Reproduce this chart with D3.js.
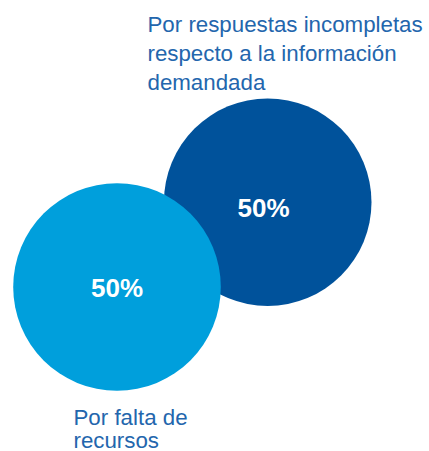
<!DOCTYPE html>
<html>
<head>
<meta charset="utf-8">
<script src="https://cdn.jsdelivr.net/npm/d3@7"></script>
<style>
  html, body { margin: 0; padding: 0; background: #ffffff; }
  svg { display: block; }
</style>
</head>
<body>
<script>
// Motivos de las respuestas, cada uno con su porcentaje
const categories = ["incompletas", "recursos"];
const values = [50, 50];
const labelLines = [
  ["Por respuestas incompletas", "respecto a la información", "demandada"],
  ["Por falta de", "recursos"]
];
const valueLabels = ["50%", "50%"];

const width = 429, height = 451;
const colors = d3.scaleOrdinal().domain(categories).range(["#00529b", "#009fdc"]);

// Bubble area proportional to share
const r = d3.scaleSqrt().domain([0, 50]).range([0, 103.8]);

// Layout of each bubble and its caption
const layout = {
  incompletas: { cx: 267.7, cy: 202.2, tx: 263.5, ty: 207.4, lx: 147.5, ly: 31.7, lh: 29.3 },
  recursos:    { cx: 117.0, cy: 287.0, tx: 117.0, ty: 287.6, lx: 73.5,  ly: 424.5, lh: 23.6 }
};

const data = categories.map((c, i) => ({
  key: c, value: values[i], lines: labelLines[i], text: valueLabels[i], ...layout[c]
}));

const svg = d3.select("body").append("svg")
  .attr("width", width).attr("height", height);

// Circles: the first one sits behind the second
svg.selectAll("circle.bubble").data(data).join("circle")
  .attr("class", "bubble")
  .attr("cx", d => d.cx)
  .attr("cy", d => d.cy)
  .attr("r", d => r(d.value))
  .attr("fill", d => colors(d.key));

// Percentages
svg.selectAll("text.pct").data(data).join("text")
  .attr("class", "pct")
  .attr("x", d => d.tx)
  .attr("y", d => d.ty)
  .attr("dy", "0.36em")
  .attr("text-anchor", "middle")
  .attr("fill", "#ffffff")
  .style("font-family", "'Liberation Sans', Arial, sans-serif")
  .style("font-weight", "bold")
  .style("font-size", "26px")
  .text(d => d.text);

// Captions
const caps = svg.selectAll("text.cap").data(data).join("text")
  .attr("class", "cap")
  .attr("fill", "#2366ad")
  .style("font-family", "'Liberation Sans', Arial, sans-serif")
  .style("font-size", "22.3px");

caps.selectAll("tspan").data(d => d.lines.map((t, i) => ({ t, i, d }))).join("tspan")
  .attr("x", e => e.d.lx)
  .attr("y", e => e.d.ly + e.i * e.d.lh)
  .text(e => e.t);
</script>
</body>
</html>
